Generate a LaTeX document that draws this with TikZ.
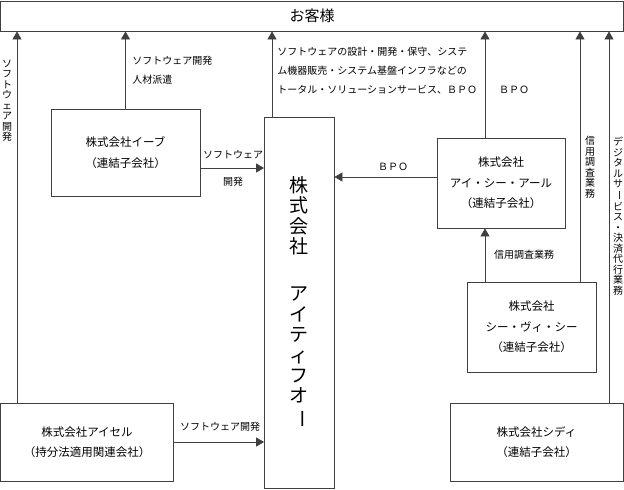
\documentclass[tikz,border=0pt]{standalone}
\usepackage{fontspec}
\setmainfont{Noto Sans CJK JP}
\usepackage{tikz}
\usetikzlibrary{arrows.meta}
\newcommand{\tbar}{\rotatebox[origin=c]{-90}{ー}}

\begin{document}
\begin{tikzpicture}[x=1pt,y=-1pt,->,>={Triangle[length=8pt,width=9pt]},line width=0.8pt]
\tikzstyle{firm}=[draw=black!75,rectangle,inner sep=0pt,align=center,font=\fontsize{11.5}{20.5}\selectfont]
\tikzstyle{lbl}=[inner sep=0pt,font=\fontsize{10}{19}\selectfont]
\tikzstyle{tate}=[inner sep=0pt,align=center,font=\fontsize{10}{10.5}\selectfont]
\tikzstyle{link}=[draw=black!75]
\useasboundingbox (0,0) rectangle (624,490);
% companies
\node[firm,minimum width=623pt,minimum height=30pt,font=\fontsize{15}{15}\selectfont] (customer) at (312,16) {お客様};
\node[firm,minimum width=149pt,minimum height=87pt] (eve) at (125.5,152.5) {株式会社イーブ\\（連結子会社）};
\node[firm,minimum width=69.5pt,minimum height=371pt,font=\fontsize{19}{20.4}\selectfont] (itfor) at (299.25,302.5) {株\\式\\会\\社\\[27pt]ア\\イ\\テ\\ィ\\フ\\オ\\\tbar};
\node[firm,minimum width=128pt,minimum height=90pt] (icr) at (501,183) {株式会社\\アイ・シー・アール\\（連結子会社）};
\node[firm,minimum width=129pt,minimum height=90pt] (cvc) at (531.5,327) {株式会社\\シー・ヴィ・シー\\（連結子会社）};
\node[firm,minimum width=173pt,minimum height=78pt] (aisel) at (87,442) {株式会社アイセル\\（持分法適用関連会社）};
\node[firm,minimum width=173pt,minimum height=78pt] (cdi) at (536.5,442) {株式会社シディ\\（連結子会社）};
% where the lines run
\coordinate (A) at (17,0);
\coordinate (B) at (272,0);
\coordinate (C) at (485,0);
\coordinate (D) at (580,0);
\coordinate (E) at (609,0);
\coordinate (F) at (0,168);
\coordinate (G) at (0,177);
\draw[link] (aisel.north -| A) -- (customer.south -| A);
\draw[link] (eve.north) -- (customer.south -| eve.north);
\draw[link] (itfor.north -| B) -- (customer.south -| B);
\draw[link] (icr.north -| C) -- (customer.south -| C);
\draw[link] (cvc.north -| C) -- (icr.south -| C);
\draw[link] (cvc.north -| D) -- (customer.south -| D);
\draw[link] (cdi.north -| E) -- (customer.south -| E);
\draw[link] (eve.east |- F) -- (itfor.west |- F);
\draw[link] (icr.west |- G) -- (itfor.east |- G);
\draw[link] (aisel.east) -- (itfor.west |- aisel.east);
% labels
\node[tate] (devleft) at (7,101) {ソ\\フ\\ト\\ウ\\ェ\\ア\\開\\発};
\node[lbl,align=left,anchor=west] (eveup) at (132,70.5) {ソフトウェア開発\\人材派遣};
\node[lbl,align=left,anchor=west] (itforup) at (277,71) {ソフトウェアの設計・開発・保守、システ\\ム機器販売・システム基盤インフラなどの\\トータル・ソリューションサービス、ＢＰＯ};
\node[lbl] (icrup) at (514,90) {ＢＰＯ};
\node[lbl] (evesw) at (233,155) {ソフトウェア};
\node[lbl] (evedev) at (233,182) {開発};
\node[lbl] (icrbpo) at (393,167) {ＢＰＯ};
\node[tate] (cvcright) at (590,167) {信\\用\\調\\査\\業\\務};
\node[lbl] (cvcup) at (524,255) {信用調査業務};
\node[tate] (cdiup) at (618,216) {デ\\ジ\\タ\\ル\\サ\\\tbar\\ビ\\ス\\・\\決\\済\\代\\行\\業\\務};
\node[lbl] (aiseldev) at (220,427) {ソフトウェア開発};
\end{tikzpicture}
\end{document}
